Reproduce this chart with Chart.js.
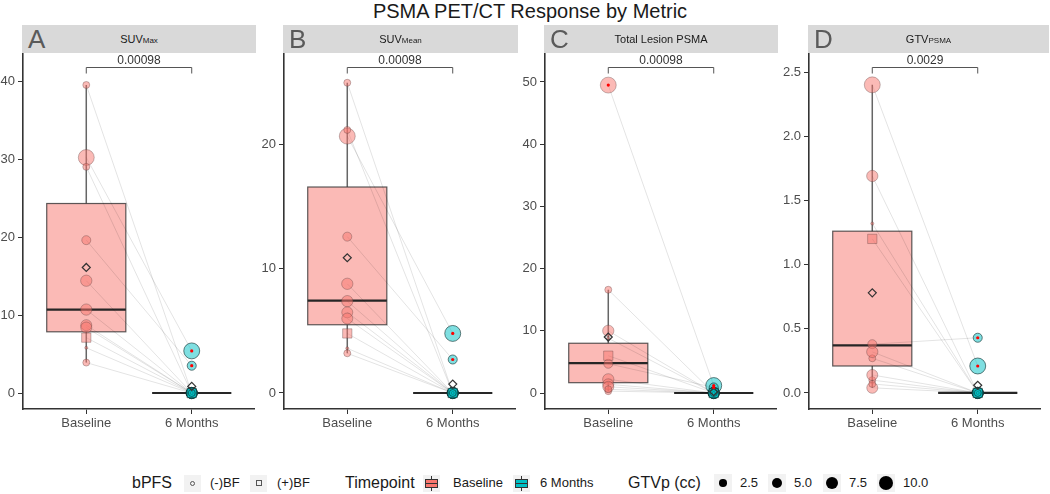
<!DOCTYPE html>
<html>
<head>
<meta charset="utf-8">
<script src="https://cdn.jsdelivr.net/npm/chart.js@4.4.0/dist/chart.umd.min.js"></script>
<style>
  body { margin: 0; background: #fff; font-family: "Liberation Sans", Arial, sans-serif; }
  #wrap { position: relative; width: 1050px; height: 494px; overflow: hidden; }
  #title { position: absolute; top: 0; left: 0; width: 1060px; text-align: center; font-size: 20px; color: #1a1a1a; line-height: 22px; }
  .strip { position: absolute; top: 25px; height: 28px; background: #d9d9d9; }
  .strip .letter { position: absolute; left: 6px; top: 0; font-size: 26px; line-height: 29px; color: #5a5a5a; }
  .strip .lab { position: absolute; left: 0; right: 0; top: 0; line-height: 29px; text-align: center; font-size: 11px; color: #1a1a1a; }
  .strip .lab span { font-size: 8px; }
  canvas { position: absolute; }
  .lt { position: absolute; white-space: nowrap; color: #1a1a1a; }
  .key { position: absolute; background: #f2f2f2; }
</style>
</head>
<body>
<div id="wrap">
  <div id="title">PSMA PET/CT Response by Metric</div>
  <div id="legend"></div>
</div>
<script>
// categories and panel labels
const categories = ['Baseline', '6 Months'];
const panelLetters = ['A', 'B', 'C', 'D'];
const panelMetric = ['SUV', 'SUV', 'Total Lesion PSMA', 'GTV'];
const panelSub = ['Max', 'Mean', '', 'PSMA'];
const pValues = ['0.00098', '0.00098', '0.00098', '0.0029'];

// per patient: GTVp (cc) and bPFS group
const gtvp = [2.2, 11.5, 2.2, 3.7, 5.8, 5.8, 5.5, 5.5, 5.0, 0.4, 2.2];
const bpfs = ['(-)BF', '(-)BF', '(-)BF', '(-)BF', '(-)BF', '(-)BF', '(-)BF', '(-)BF', '(+)BF', '(-)BF', '(-)BF'];

// values per patient, baseline and 6 months
const suvMaxBase  = [39.5, 30.2, 29.0, 19.6, 14.4, 10.7, 8.7, 8.4, 7.1, 5.8, 3.9];
const suvMax6m    = [0, 5.4, 0, 3.5, 0, 0, 0, 0, 0, 0, 0];
const suvMeanBase = [25.0, 20.7, 21.2, 12.6, 8.8, 7.4, 6.5, 6.0, 4.8, 3.6, 3.2];
const suvMean6m   = [0, 4.8, 0, 2.7, 0, 0, 0, 0, 0, 0, 0];
const tlpBase     = [16.6, 49.5, 0.3, 4.7, 10.0, 2.2, 1.4, 1.0, 6.0, 8.8, 0.6];
const tlp6m       = [0, 1.2, 0, 0.9, 0, 0, 0, 0, 0, 0, 0];
const gtvBase     = [0.10, 2.40, 0.27, 0.38, 1.69, 0.32, 0.14, 0.04, 1.20, 1.32, 0.07];
const gtv6m       = [0, 0.21, 0, 0.43, 0, 0, 0, 0, 0, 0, 0];

// box stats: [lower whisker, Q1, median, Q3, upper whisker]
const boxBase = [[3.9, 7.85, 10.7, 24.3, 39.5], [3.2, 5.5, 7.45, 16.6, 25.0], [0.3, 1.66, 4.8, 8.0, 16.6], [0.04, 0.21, 0.37, 1.26, 2.40]];
const box6m   = [[0, 0, 0, 0, 0], [0, 0, 0, 0, 0], [0, 0, 0, 0, 0], [0, 0, 0, 0, 0]];
const meanBase = [16.1, 10.9, 9.0, 0.78];
const mean6m   = [0.85, 0.72, 0.2, 0.06];
const outliersBase = [[], [], [49.5], []];
const outliers6m   = [[5.4, 3.5], [4.8, 2.7], [1.2, 0.9], [0.43, 0.21]];
const bracketY = [41.76, 26.26, 52.42, 2.536];

// axes
const yMin = [-2.05, -1.29, -2.57, -0.125];
const yMax = [43.6, 27.4, 54.66, 2.648];
const yTicks = [[0, 10, 20, 30, 40], [0, 10, 20], [0, 10, 20, 30, 40, 50], [0, 0.5, 1, 1.5, 2, 2.5]];

// legend values
const gtvLegend = [2.5, 5.0, 7.5, 10.0];

const baseSeries = [suvMaxBase, suvMeanBase, tlpBase, gtvBase];
const fupSeries = [suvMax6m, suvMean6m, tlp6m, gtv6m];

// layout
const plotLeft = [23, 284, 545, 809];
const plotW = 232;
const stripW = [234, 235, 234, 241];
const axisW = [23, 34, 34, 34];

const RED = 'rgba(248,118,109,0.5)';
const TEAL = 'rgba(0,191,196,0.5)';

Chart.defaults.font.family = '"Liberation Sans", Arial, sans-serif';
Chart.defaults.font.size = 13;
Chart.defaults.color = '#4d4d4d';

function sizeR(v) {
    return Math.max(1.5, 2.35 * Math.sqrt(v));
}

const wrap = document.getElementById('wrap');

for (let i = 0; i < 4; i++) {
    // strip header
    const strip = document.createElement('div');
    strip.className = 'strip';
    strip.style.left = (plotLeft[i] - 1) + 'px';
    strip.style.width = stripW[i] + 'px';
    strip.innerHTML = '<div class="letter">' + panelLetters[i] + '</div><div class="lab">' +
        panelMetric[i] + '<span>' + panelSub[i] + '</span></div>';
    wrap.appendChild(strip);

    const canvas = document.createElement('canvas');
    canvas.width = axisW[i] + plotW;
    canvas.height = 385;
    canvas.style.left = (plotLeft[i] - axisW[i]) + 'px';
    canvas.style.top = '53px';
    wrap.appendChild(canvas);

    const base = baseSeries[i];
    const fup = fupSeries[i];

    const lineSets = base.map((b, k) => ({
        type: 'line',
        data: [{ x: 1, y: b }, { x: 2, y: fup[k] }],
        borderColor: 'rgba(0,0,0,0.11)',
        borderWidth: 1,
        pointRadius: 0,
        clip: false,
        order: 4
    }));

    const pointSet = (vals, xPos, fill, border) => ({
        data: vals.map(v => ({ x: xPos, y: v })),
        backgroundColor: fill,
        borderColor: border,
        borderWidth: 1,
        pointStyle: bpfs.map(s => s === '(+)BF' ? 'rect' : 'circle'),
        pointRadius: gtvp.map((g, k) => sizeR(g) * (bpfs[k] === '(+)BF' ? 1.25 : 1)),
        clip: false,
        order: 2
    });

    const meanSet = {
        data: [{ x: 1, y: meanBase[i] }, { x: 2, y: mean6m[i] }],
        pointStyle: 'rectRot',
        pointRadius: 4,
        backgroundColor: 'rgba(0,0,0,0)',
        borderColor: '#333',
        borderWidth: 1.2,
        clip: false,
        order: 1
    };

    const outlierSet = {
        data: outliersBase[i].map(v => ({ x: 1, y: v })).concat(outliers6m[i].map(v => ({ x: 2, y: v }))),
        pointRadius: 1.6,
        backgroundColor: '#ff0000',
        borderWidth: 0,
        clip: false,
        order: 0
    };

    // boxplot + significance bracket drawn through the scales
    const boxPlugin = {
        id: 'boxes' + i,
        beforeDatasetsDraw(chart) {
            const ctx = chart.ctx;
            const xs = chart.scales.x, ys = chart.scales.y;
            const halfW = xs.getPixelForValue(1.375) - xs.getPixelForValue(1);
            [boxBase[i], box6m[i]].forEach((st, g) => {
                const cx = xs.getPixelForValue(g + 1);
                const [lo, q1, med, q3, hi] = st.map(v => ys.getPixelForValue(v));
                ctx.save();
                ctx.strokeStyle = 'rgba(51,51,51,0.75)';
                ctx.lineWidth = 1.5;
                ctx.beginPath();
                ctx.moveTo(cx, q3); ctx.lineTo(cx, hi);
                ctx.moveTo(cx, q1); ctx.lineTo(cx, lo);
                ctx.stroke();
                ctx.fillStyle = g === 0 ? RED : TEAL;
                ctx.fillRect(cx - halfW, q3, 2 * halfW, q1 - q3);
                ctx.lineWidth = 1.2;
                ctx.strokeStyle = 'rgba(51,51,51,0.8)';
                ctx.strokeRect(cx - halfW, q3, 2 * halfW, q1 - q3);
                ctx.strokeStyle = '#262626';
                ctx.lineWidth = 2.2;
                ctx.beginPath();
                ctx.moveTo(cx - halfW, med); ctx.lineTo(cx + halfW, med);
                ctx.stroke();
                ctx.restore();
            });
        },
        afterDatasetsDraw(chart) {
            const ctx = chart.ctx;
            const xs = chart.scales.x, ys = chart.scales.y;
            const x1 = xs.getPixelForValue(1), x2 = xs.getPixelForValue(2);
            const by = Math.round(ys.getPixelForValue(bracketY[i])) + 0.5;
            ctx.save();
            ctx.strokeStyle = '#555';
            ctx.lineWidth = 1;
            ctx.beginPath();
            ctx.moveTo(x1, by + 6); ctx.lineTo(x1, by); ctx.lineTo(x2, by); ctx.lineTo(x2, by + 6);
            ctx.stroke();
            ctx.fillStyle = '#333';
            ctx.font = '12px "Liberation Sans", Arial, sans-serif';
            ctx.textAlign = 'center';
            ctx.textBaseline = 'bottom';
            ctx.fillText(pValues[i], (x1 + x2) / 2, by - 1);
            ctx.restore();
        }
    };

    new Chart(canvas, {
        type: 'scatter',
        data: {
            datasets: [
                outlierSet,
                meanSet,
                pointSet(base, 1, RED, 'rgba(90,60,60,0.35)'),
                pointSet(fup, 2, TEAL, 'rgba(15,45,45,0.6)')
            ].concat(lineSets)
        },
        options: {
            responsive: false,
            animation: false,
            devicePixelRatio: 1,
            events: [],
            layout: { padding: 0, autoPadding: false },
            plugins: { legend: { display: false }, tooltip: { enabled: false } },
            scales: {
                x: {
                    type: 'linear',
                    min: 0.4,
                    max: 2.6,
                    afterBuildTicks: axis => { axis.ticks = [{ value: 1 }, { value: 2 }]; },
                    afterFit: axis => { axis.height = 29; axis.paddingLeft = 0; axis.paddingRight = 0; },
                    ticks: { callback: v => categories[v - 1], padding: 2, maxRotation: 0, color: '#4d4d4d' },
                    grid: { drawOnChartArea: false, drawTicks: true, tickLength: 5, color: '#333' },
                    border: { display: true, color: '#333', width: 1.6 }
                },
                y: {
                    min: yMin[i],
                    max: yMax[i],
                    afterBuildTicks: axis => { axis.ticks = yTicks[i].map(v => ({ value: v })); },
                    afterFit: axis => { axis.width = axisW[i]; axis.paddingTop = 0; axis.paddingBottom = 0; },
                    ticks: { callback: v => i === 3 ? v.toFixed(1) : String(v), padding: 3, color: '#4d4d4d' },
                    grid: { drawOnChartArea: false, drawTicks: true, tickLength: 5, color: '#333' },
                    border: { display: true, color: '#333', width: 1.6 }
                }
            }
        },
        plugins: [boxPlugin]
    });
}

// legend
const legend = document.getElementById('legend');
const LY = 483;

function addText(txt, left, size) {
    const d = document.createElement('div');
    d.className = 'lt';
    d.style.left = left + 'px';
    d.style.fontSize = size + 'px';
    d.style.lineHeight = '20px';
    d.style.top = (LY - 10) + 'px';
    d.textContent = txt;
    legend.appendChild(d);
}

function addKey(left, w) {
    const d = document.createElement('div');
    d.className = 'key';
    d.style.left = left + 'px';
    d.style.top = (LY - w / 2) + 'px';
    d.style.width = w + 'px';
    d.style.height = w + 'px';
    legend.appendChild(d);
    return d;
}

function addInner(key, css) {
    const d = document.createElement('div');
    d.style.position = 'absolute';
    d.style.cssText += css;
    key.appendChild(d);
    return d;
}

addText('bPFS', 132, 16);
let k = addKey(184, 17);
addInner(k, 'left:6px;top:6px;width:3px;height:3px;border:1px solid #555;border-radius:50%;');
addText('(-)BF', 210, 13);
k = addKey(250, 17);
addInner(k, 'left:5.5px;top:5.5px;width:4px;height:4px;border:1px solid #555;');
addText('(+)BF', 277, 13);

addText('Timepoint', 345, 16);
[[423, '#F8766D', 'Baseline', 453], [513, '#00BFC4', '6 Months', 540]].forEach(([left, col, lab, tl]) => {
    const key = addKey(left, 17);
    addInner(key, 'left:8px;top:1px;width:1px;height:15px;background:#333;');
    addInner(key, 'left:2px;top:4px;width:11px;height:7px;border:1px solid #333;background:' + col + ';');
    addInner(key, 'left:2px;top:8px;width:13px;height:1.5px;background:#333;');
    addText(lab, tl, 13);
});

addText('GTVp (cc)', 628, 16);
const gtvKeyLeft = [714, 768, 823, 877];
gtvLegend.forEach((v, j) => {
    const key = addKey(gtvKeyLeft[j], 18);
    const r = sizeR(v);
    addInner(key, 'left:' + (9 - r) + 'px;top:' + (9 - r) + 'px;width:' + (2 * r) + 'px;height:' + (2 * r) + 'px;border-radius:50%;background:#000;');
    addText(v.toFixed(1), gtvKeyLeft[j] + 26, 13);
});
</script>
</body>
</html>
